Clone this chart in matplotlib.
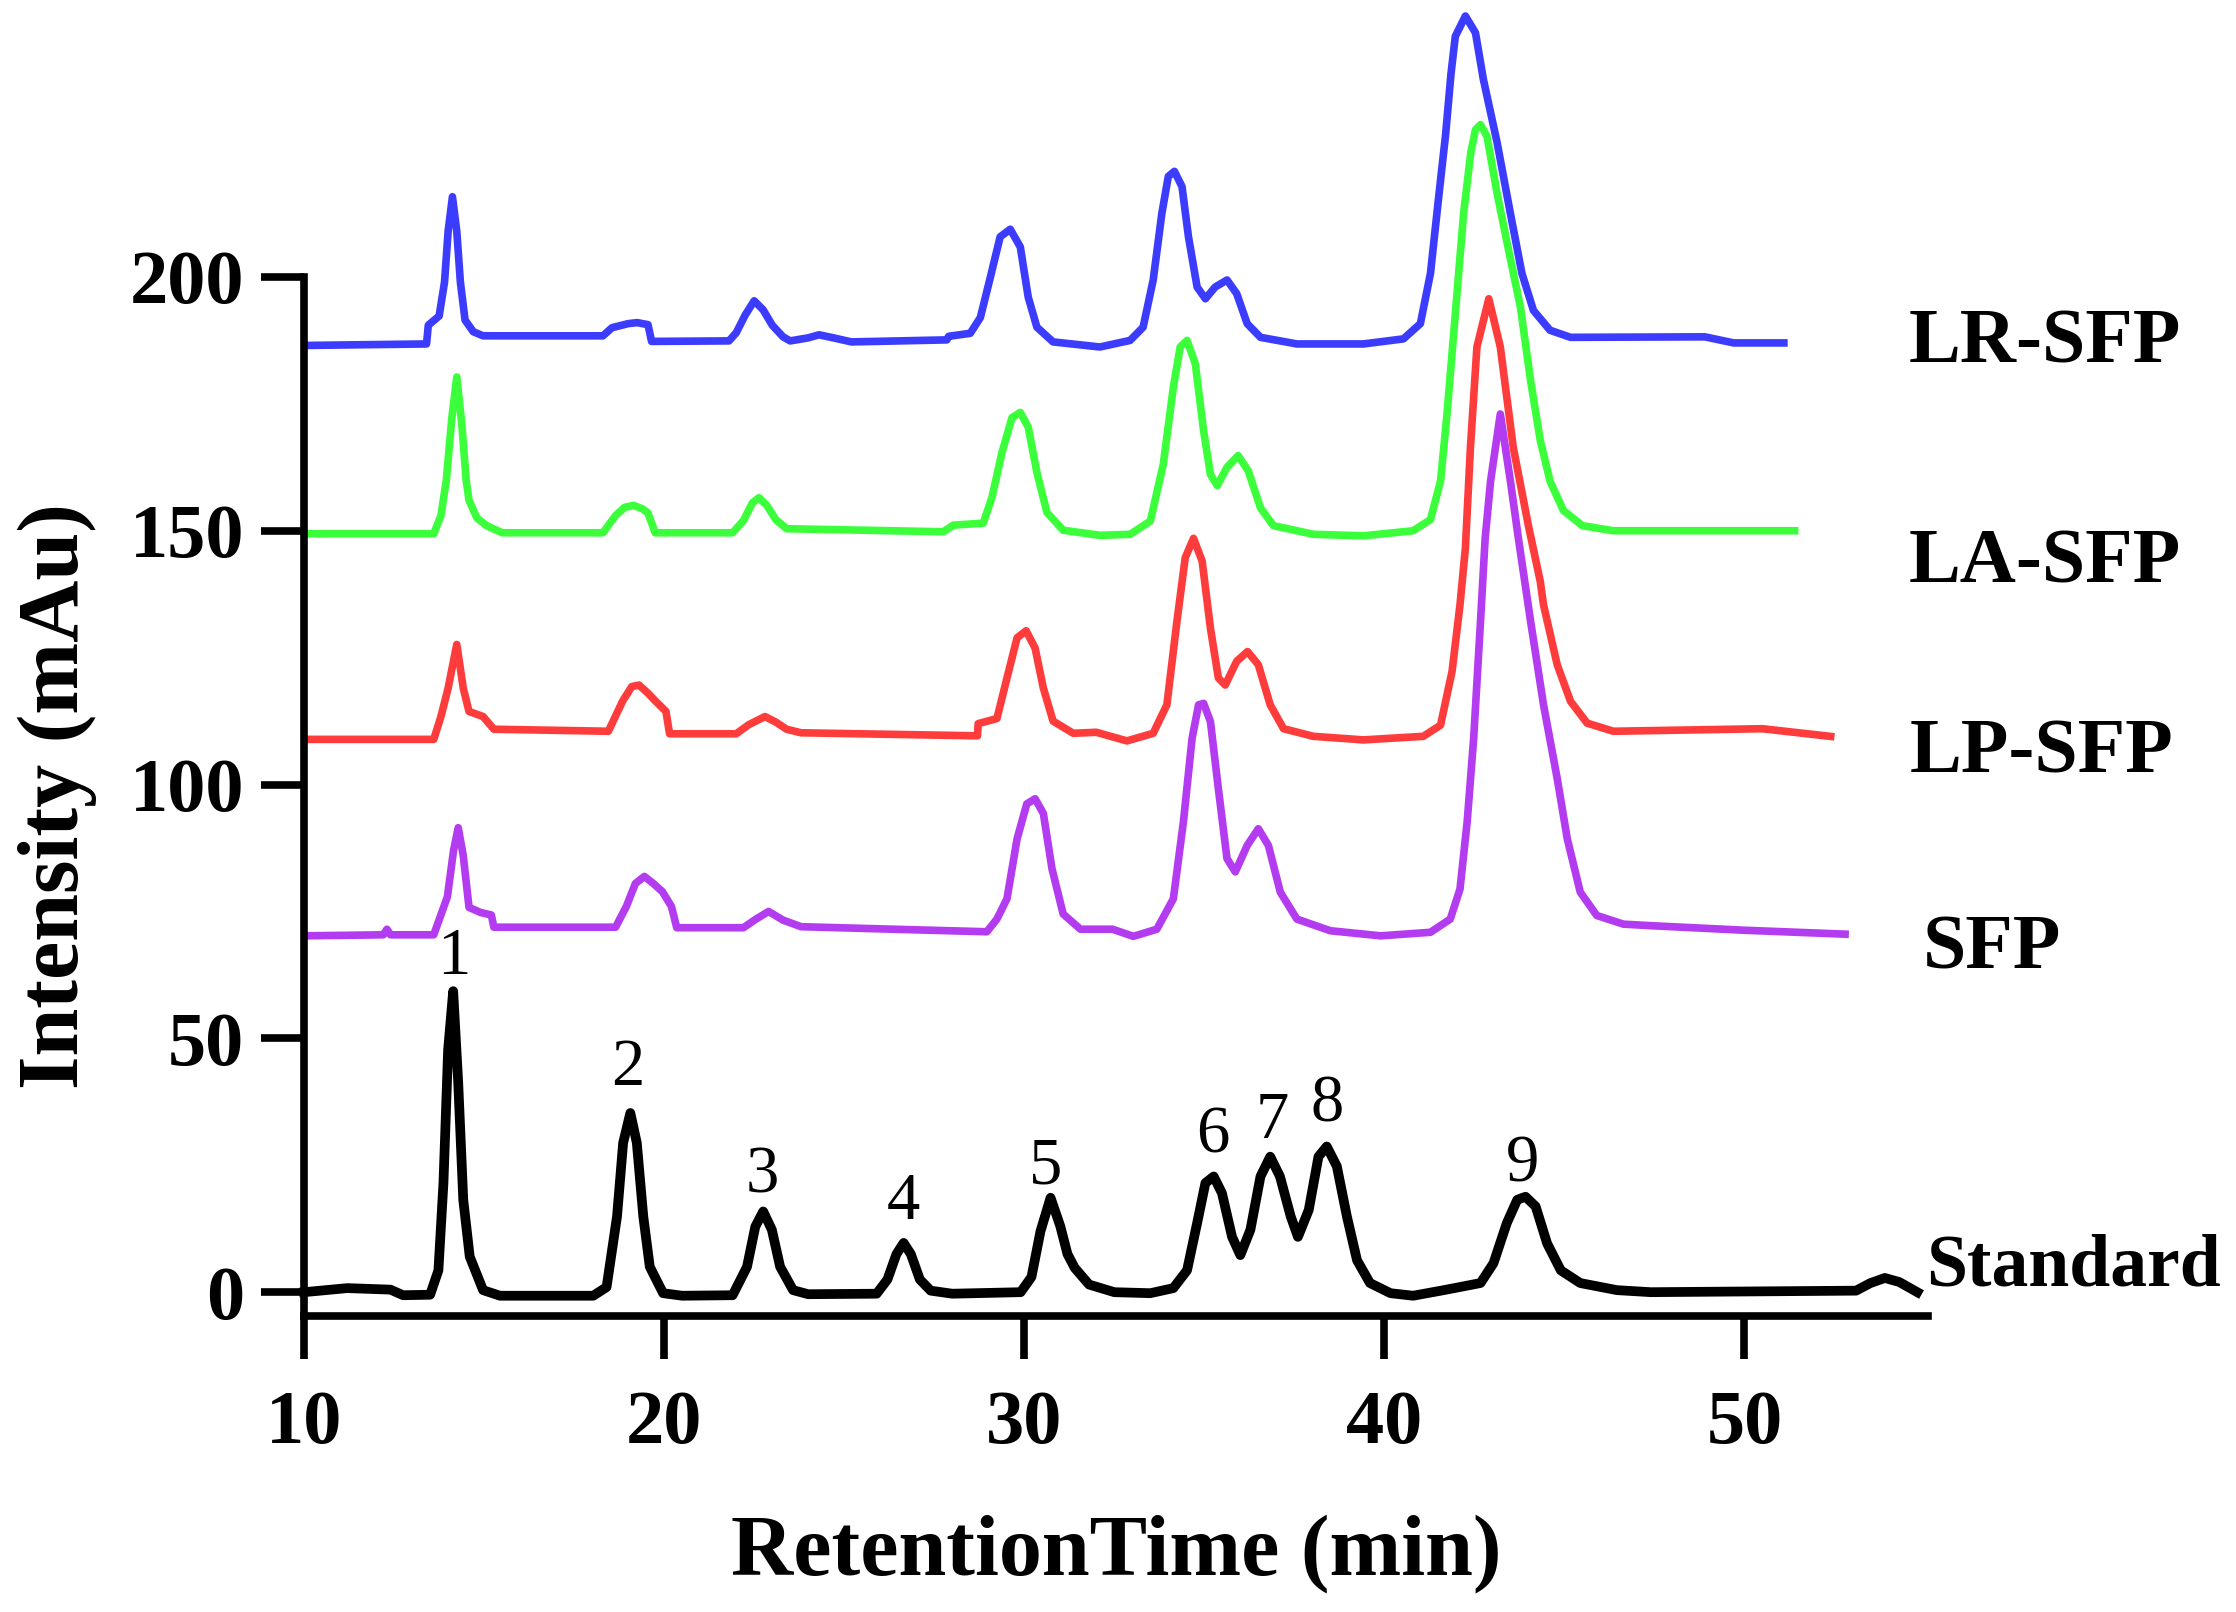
import matplotlib
matplotlib.use("Agg")
import matplotlib.pyplot as plt

plt.rcParams['font.family'] = ['Liberation Serif', 'DejaVu Serif']

# ---------- traces (time in min, intensity in mAu) ----------
lr_t = [10.0, 13.4, 13.45, 13.75, 13.9, 14.0, 14.12, 14.24, 14.34, 14.47, 14.7, 14.97,
        18.3, 18.55, 19.0, 19.25, 19.55, 19.65, 21.8, 22.0, 22.25, 22.5, 22.75, 23.0,
        23.3, 23.5, 24.0, 24.3, 24.7, 25.2, 27.85, 27.9, 28.5, 28.78, 29.06, 29.33, 29.61,
        29.89, 30.11, 30.35, 30.8, 32.1, 32.94, 33.3, 33.58, 33.82, 34.0, 34.17, 34.38,
        34.56, 34.8, 35.03, 35.3, 35.63, 35.9, 36.19, 36.56, 37.57, 39.42, 40.53, 41.0,
        41.28, 41.5, 41.7, 41.85, 41.97, 42.25, 42.53, 42.75, 43.13, 43.5, 43.82, 44.14,
        44.6, 45.17, 48.9, 49.7, 51.2]
lr_y = [186.5, 186.8, 190.5, 192.3, 199, 209, 215.8, 209, 199, 191.5, 189.2, 188.4,
        188.4, 190.0, 190.8, 191.0, 190.6, 187.3, 187.4, 189.0, 192.5, 195.3, 193.5, 190.5,
        188.2, 187.4, 188.0, 188.6, 188.0, 187.2, 187.6, 188.3, 188.9, 192.0, 200.0, 207.9, 209.4,
        205.9, 196.0, 190.1, 187.2, 186.2, 187.5, 190.1, 199.4, 212.5, 219.8, 220.8, 217.8,
        207.9, 198.0, 195.7, 198.0, 199.4, 196.7, 190.8, 188.1, 186.8, 186.8, 187.8, 190.8,
        200.7, 215.2, 228.0, 240.0, 247.4, 251.4, 248.1, 238.9, 226.5, 212.5, 200.7, 193.4,
        189.5, 188.1, 188.2, 187.0, 187.0]

la_t = [10.0, 13.6, 13.8, 13.95, 14.1, 14.24, 14.38, 14.5, 14.58, 14.8, 15.07, 15.5,
        18.3, 18.65, 18.9, 19.15, 19.4, 19.55, 19.75, 21.9, 22.2, 22.45, 22.63, 22.85,
        23.1, 23.4, 27.75, 28.03, 28.86, 29.1, 29.38, 29.66, 29.89, 30.11, 30.35, 30.63,
        31.08, 32.1, 32.94, 33.5, 33.86, 34.14, 34.33, 34.52, 34.75, 34.98, 35.17, 35.36,
        35.63, 35.94, 36.22, 36.56, 36.92, 38.03, 39.42, 40.8, 41.28, 41.56, 41.74, 41.97,
        42.2, 42.4, 42.53, 42.67, 42.85, 43.13, 43.4, 43.78, 44.06, 44.33, 44.6, 44.97,
        45.5, 46.36, 51.5]
la_y = [149.4, 149.4, 153, 160, 172, 180.3, 171, 160, 156, 152.5, 151, 149.6,
        149.6, 153, 154.6, 155, 154.3, 153.5, 149.6, 149.6, 152, 155.5, 156.5, 155,
        152.2, 150.4, 149.8, 151.1, 151.5, 156.5, 165.4, 172.3, 173.3, 170.4, 161.5, 153.6,
        150.1, 149.1, 149.3, 151.9, 163.1, 178.3, 186.2, 187.5, 182.9, 169.7, 161.1, 158.9,
        162.5, 164.8, 161.8, 154.5, 151.0, 149.3, 149.0, 150.0, 152.2, 159.8, 173.0, 192.7,
        212.5, 224.5, 229.0, 230.0, 227.7, 216.5, 207.0, 194.0, 179.6, 167.8, 159.8, 154.0,
        151.0, 150.0, 150.0]

lp_t = [10.0, 13.6, 13.8, 14.0, 14.24, 14.42, 14.58, 14.97, 15.27, 18.45, 18.65, 18.85,
        19.1, 19.3, 19.55, 19.75, 20.05, 20.15, 22.0, 22.35, 22.8, 23.1, 23.4, 23.8,
        28.7, 28.72, 29.24, 29.52, 29.8, 30.05, 30.3, 30.53, 30.8, 31.36, 32.0, 32.85,
        33.58, 33.96, 34.24, 34.47, 34.7, 34.94, 35.17, 35.39, 35.58, 35.9, 36.2, 36.5,
        36.83, 37.2, 38.03, 39.42, 41.08, 41.56, 41.88, 42.1, 42.25, 42.39, 42.57, 42.9,
        43.22, 43.58, 44.0, 44.33, 44.42, 44.8, 45.17, 45.63, 46.36, 50.5, 52.5]
lp_y = [108.9, 108.9, 113.4, 119, 127.6, 119, 114.4, 113.4, 110.9, 110.5, 113.5, 116.5,
        119.3, 119.6, 118, 116.5, 114.4, 110.0, 110.0, 111.8, 113.4, 112.3, 110.9, 110.2,
        109.6, 112.0, 113.0, 121.0, 128.9, 130.3, 126.9, 119.0, 112.5, 110.1, 110.3, 108.6,
        110.1, 115.7, 132.2, 144.7, 148.5, 144.0, 130.8, 121.0, 119.6, 124.3, 126.2, 123.6,
        115.7, 111.0, 109.5, 108.8, 109.5, 111.7, 122.3, 135.4, 146.6, 166.4, 186.2, 195.7,
        186.2, 166.4, 151.0, 140.0, 135.4, 123.6, 116.4, 112.1, 110.5, 111.0, 109.4]

sfp_t = [10.0, 12.2, 12.3, 12.4, 13.6, 13.98, 14.15, 14.28, 14.42, 14.58, 14.9, 15.2,
         15.27, 18.65, 18.95, 19.2, 19.45, 19.7, 19.95, 20.2, 20.35, 22.2, 22.55, 22.9,
         23.3, 23.8, 28.96, 29.24, 29.52, 29.8, 30.07, 30.3, 30.53, 30.77, 31.08, 31.56,
         32.45, 33.03, 33.68, 34.14, 34.42, 34.66, 34.84, 34.98, 35.17, 35.39, 35.63, 35.86,
         36.19, 36.5, 36.78, 37.11, 37.57, 38.5, 39.9, 41.28, 41.83, 42.1, 42.3, 42.48,
         42.67, 42.8, 42.95, 43.22, 43.5, 43.72, 44.06, 44.42, 44.8, 45.08, 45.44, 45.9,
         46.64, 47.4, 50.0, 52.9]
sfp_y = [70.2, 70.4, 71.5, 70.4, 70.4, 77.9, 87, 91.5, 86, 75.8, 74.8, 74.3,
         71.9, 71.9, 76, 80.5, 81.9, 80.5, 78.9, 76, 71.8, 71.8, 73.5, 75,
         73.3, 72, 71.0, 73.5, 77.5, 89.3, 96.2, 97.2, 94.3, 83.4, 74.5, 71.5,
         71.5, 70.1, 71.5, 77.5, 92.7, 109.1, 115.7, 116.0, 112.4, 99.2, 85.4, 82.8,
         88.0, 91.3, 88.0, 78.8, 73.5, 71.2, 70.2, 70.9, 73.5, 79.4, 92.7, 109.1,
         132.2, 148.6, 159.8, 173.0, 159.8, 148.6, 132.2, 115.7, 101.2, 89.3, 78.8, 74.2,
         72.5, 72.2, 71.3, 70.5]

std_t = [10.0, 11.2, 12.4, 12.75, 13.5, 13.73, 13.87, 14.0, 14.14, 14.28, 14.42, 14.6,
         14.97, 15.44, 18.03, 18.4, 18.69, 18.86, 19.06, 19.24, 19.42, 19.6, 19.97, 20.5,
         21.9, 22.3, 22.53, 22.75, 22.99, 23.22, 23.58, 24.0, 25.9, 26.2, 26.45, 26.65,
         26.85, 27.1, 27.4, 28.0, 29.9, 30.2, 30.45, 30.73, 31.0, 31.2, 31.4, 31.8, 32.5,
         33.5, 34.14, 34.52, 34.8, 35.03, 35.26, 35.49, 35.77, 36.0, 36.28, 36.56, 36.83,
         37.1, 37.4, 37.6, 37.9, 38.17, 38.4, 38.68, 38.96, 39.24, 39.6, 40.17, 40.8,
         41.65, 42.67, 43.03, 43.4, 43.69, 43.92, 44.2, 44.52, 44.9, 45.44, 46.46, 47.4,
         53.1, 53.5, 53.9, 54.3, 54.8]
std_y = [0.0, 0.8, 0.5, -0.6, -0.5, 4.3, 21.5, 47.8, 59.3, 41.3, 18.2, 7.0,
         0.4, -0.7, -0.7, 1.0, 14.9, 29.4, 35.3, 29.4, 14.9, 5.0, -0.2, -0.7,
         -0.6, 5.0, 12.9, 15.9, 12.3, 5.0, 0.4, -0.4, -0.3, 2.5, 7.5, 9.7,
         7.5, 2.5, 0.3, -0.3, 0.0, 3.0, 12.0, 18.6, 13.0, 7.5, 4.8, 1.5, 0.0,
         -0.2, 0.8, 4.3, 13.6, 21.5, 22.8, 19.5, 10.9, 7.3, 12.3, 22.8, 26.7,
         22.8, 14.9, 10.9, 16.2, 26.7, 28.7, 24.8, 14.9, 6.3, 1.8, -0.2, -0.7,
         0.4, 1.8, 5.7, 13.6, 18.2, 18.8, 16.9, 9.6, 4.3, 1.8, 0.4, 0.0,
         0.3, 1.8, 2.8, 2.0, 0.0]

# peak numbers on the standard trace
peak_ids = ["1", "2", "3", "4", "5", "6", "7", "8", "9"]
peak_lx = [14.17, 19.0, 22.73, 26.65, 30.6, 35.24, 36.9, 38.4, 43.84]
peak_ly = [62.6, 40.9, 19.6, 14.4, 21.5, 27.5, 30.4, 33.7, 21.8]

# trace names on the right
names = ["LR-SFP", "LA-SFP", "LP-SFP", "SFP", "Standard"]
name_x = [54.55, 54.55, 54.6, 54.95, 55.05]
name_y = [183.2, 139.8, 102.4, 63.8, 1.3]

xticks = [10, 20, 30, 40, 50]
yticks = [0, 50, 100, 150, 200]

traces = [(lr_t, lr_y, "#3c3cff"), (la_t, la_y, "#3cff3c"), (lp_t, lp_y, "#ff3c3c"),
          (sfp_t, sfp_y, "#b43cf0")]

fig = plt.figure(figsize=(22.36, 16.12), dpi=100, facecolor="white")
ax = fig.add_axes([0.136, 0.1836, 0.7263, 0.8178])
ax.set_xlim(10, 55.1)
ax.set_ylim(-4.7, 255)

for t, y, c in traces:
    ax.plot(t, y, color=c, lw=5.5, solid_joinstyle="round", solid_capstyle="butt", clip_on=False)
ax.plot(std_t, std_y, color="black", lw=7.0, solid_joinstyle="round", clip_on=False)

for s, x, y in zip(peak_ids, peak_lx, peak_ly):
    ax.text(x, y, s, ha="center", va="baseline", fontsize=48)

for s, x, y in zip(names, name_x, name_y):
    ax.text(x, y, s, ha="left", va="baseline", fontsize=53 if s == "Standard" else 56,
            fontweight="bold", clip_on=False)

for side in ("top", "right"):
    ax.spines[side].set_visible(False)
for side in ("left", "bottom"):
    ax.spines[side].set_linewidth(5.5)
ax.spines["left"].set_bounds(-4.7, 200)

ax.set_xticks(xticks)
ax.set_yticks(yticks)
ax.tick_params(axis="both", direction="out", length=31, width=5.5, labelsize=55)
ax.tick_params(axis="x", pad=22)
ax.tick_params(axis="y", pad=12)
for lab in ax.get_xticklabels() + ax.get_yticklabels():
    lab.set_fontweight("bold")

fig.text(0.4994, 0.023, "RetentionTime (min)", ha="center", va="baseline",
         fontsize=62, fontweight="bold")
fig.text(0.0257, 0.506, "Intensity (mAu)", ha="center", va="center", rotation=90,
         fontsize=62, fontweight="bold")

fig.savefig("out.png", dpi=100, facecolor="white")
